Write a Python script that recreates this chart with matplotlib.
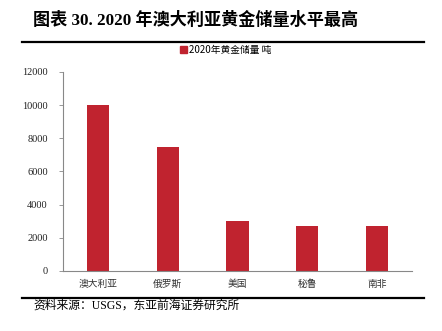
import matplotlib
matplotlib.use("Agg")
import matplotlib.pyplot as plt
from matplotlib.lines import Line2D
from matplotlib.patches import Patch

plt.rcParams['font.family'] = ['Liberation Serif', 'Noto Sans CJK SC', 'DejaVu Sans']

countries = ["澳大利亚", "俄罗斯", "美国", "秘鲁", "南非"]
reserves = [10000, 7500, 3000, 2700, 2700]
yticks = [0, 2000, 4000, 6000, 8000, 10000, 12000]
series_name = "2020年黄金储量 吨"
title = "图表 30. 2020 年澳大利亚黄金储量水平最高"
source = "资料来源：USGS，东亚前海证券研究所"

bar_color = "#C0232F"
cjk = ['Noto Sans CJK SC', 'DejaVu Sans']

fig = plt.figure(figsize=(4.42, 3.31), dpi=100)
ax = fig.add_axes([0.1425, 0.1813, 0.7896, 0.6012])

x = range(len(countries))
ax.bar(x, reserves, width=0.32, color=bar_color, zorder=2)
ax.set_xlim(-0.5, len(countries) - 0.5)
ax.set_ylim(0, 12000)
ax.set_yticks(yticks)
ax.set_yticklabels([str(v) for v in yticks], fontsize=7.5, color="#222222")
ax.set_xticks(list(x))
ax.set_xticklabels(countries, fontsize=7, family=cjk, color="#333333")
ax.tick_params(axis='x', length=0, pad=6)
ax.tick_params(axis='y', length=3, width=0.6, color="#888888", direction='out', pad=8)
for s in ['top', 'right']:
    ax.spines[s].set_visible(False)
for s in ['left', 'bottom']:
    ax.spines[s].set_color("#888888")
    ax.spines[s].set_linewidth(0.8)

fig.legend([Patch(color=bar_color)], [series_name], loc='center',
           bbox_to_anchor=(226 / 442, 1 - 50 / 331), frameon=False, handlelength=0.7,
           handleheight=0.7, handletextpad=0.2, borderpad=0, prop={'family': cjk, 'size': 7})

fig.text(33 / 442, 1 - 20 / 331, title, fontsize=12.3, fontweight='bold',
         family=['Liberation Serif', 'Noto Sans CJK SC'], va='center', ha='left')
fig.add_artist(Line2D([22 / 442, 424 / 442], [1 - 42 / 331] * 2, color='black', lw=1.6))
fig.add_artist(Line2D([22 / 442, 424 / 442], [1 - 298 / 331] * 2, color='black', lw=1.6))
fig.text(33 / 442, 1 - 306 / 331, source, fontsize=8.5,
         family=['Liberation Serif', 'Noto Sans CJK SC'], va='center', ha='left')

fig.savefig("out.png", dpi=100)
